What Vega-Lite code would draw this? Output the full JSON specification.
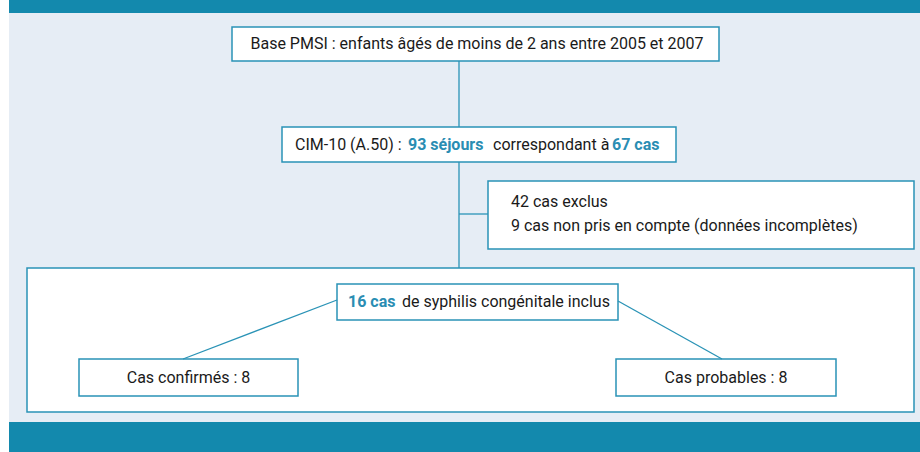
{
  "$schema": "https://vega.github.io/schema/vega-lite/v6.json",
  "autosize": {"type": "fit", "contains": "padding"},
  "width": 920,
  "height": 452,
  "padding": 0,
  "background": "#ffffff",
  "config": {"view": {"stroke": null}},
  "datasets": {
    "bands": [
      {"x": 9, "x2": 920, "y": 0, "y2": 13, "c": "#1389ad"},
      {"x": 9, "x2": 920, "y": 13, "y2": 422, "c": "#e6edf5"},
      {"x": 9, "x2": 920, "y": 422, "y2": 452, "c": "#1389ad"}
    ],
    "boxes": [
      {"x": 232, "x2": 719, "y": 27, "y2": 61},
      {"x": 282, "x2": 676, "y": 127, "y2": 162},
      {"x": 488, "x2": 914, "y": 181, "y2": 249},
      {"x": 27, "x2": 914, "y": 268, "y2": 412},
      {"x": 337, "x2": 618, "y": 284, "y2": 320},
      {"x": 79, "x2": 298, "y": 359, "y2": 396},
      {"x": 616, "x2": 836, "y": 359, "y2": 396}
    ],
    "links": [
      {"x": 459, "x2": 459, "y": 61, "y2": 127},
      {"x": 459, "x2": 459, "y": 162, "y2": 268},
      {"x": 459, "x2": 488, "y": 214, "y2": 214},
      {"x": 337, "x2": 183, "y": 300, "y2": 359},
      {"x": 618, "x2": 722, "y": 301, "y2": 359}
    ],
    "centered": [
      {"x": 477, "y": 44, "t": "Base PMSI : enfants âgés de moins de 2 ans entre 2005 et 2007"},
      {"x": 188.5, "y": 378, "t": "Cas confirmés : 8"},
      {"x": 726, "y": 378, "t": "Cas probables : 8"}
    ],
    "leftplain": [
      {"x": 295, "y": 145, "t": "CIM-10 (A.50) :"},
      {"x": 493, "y": 145, "t": "correspondant à"},
      {"x": 402, "y": 302, "t": "de syphilis congénitale inclus"},
      {"x": 511, "y": 202, "t": "42 cas exclus"},
      {"x": 511, "y": 226, "t": "9 cas non pris en compte (données incomplètes)"}
    ],
    "leftbold": [
      {"x": 408, "y": 145, "t": "93 séjours"},
      {"x": 612, "y": 145, "t": "67 cas"},
      {"x": 348, "y": 302, "t": "16 cas"}
    ]
  },
  "layer": [
    {
      "data": {"name": "bands"},
      "mark": {"type": "rect"},
      "encoding": {
        "x": {"field": "x", "type": "quantitative", "scale": {"domain": [0, 920], "nice": false, "zero": false}, "axis": null},
        "x2": {"field": "x2"},
        "y": {"field": "y", "type": "quantitative", "scale": {"domain": [0, 452], "nice": false, "zero": false, "reverse": true}, "axis": null},
        "y2": {"field": "y2"},
        "color": {"field": "c", "type": "nominal", "scale": null}
      }
    },
    {
      "data": {"name": "boxes"},
      "mark": {"type": "rect", "fill": "#ffffff", "stroke": "#2a93b6", "strokeWidth": 1.5},
      "encoding": {
        "x": {"field": "x", "type": "quantitative", "axis": null},
        "x2": {"field": "x2"},
        "y": {"field": "y", "type": "quantitative", "axis": null},
        "y2": {"field": "y2"}
      }
    },
    {
      "data": {"name": "links"},
      "mark": {"type": "rule", "color": "#2a93b6", "strokeWidth": 1.3},
      "encoding": {
        "x": {"field": "x", "type": "quantitative", "axis": null},
        "x2": {"field": "x2"},
        "y": {"field": "y", "type": "quantitative", "axis": null},
        "y2": {"field": "y2"}
      }
    },
    {
      "data": {"name": "centered"},
      "mark": {"type": "text", "align": "center", "baseline": "middle", "font": "Roboto", "fontSize": 16, "color": "#1a1a1a"},
      "encoding": {
        "x": {"field": "x", "type": "quantitative", "axis": null},
        "y": {"field": "y", "type": "quantitative", "axis": null},
        "text": {"field": "t"}
      }
    },
    {
      "data": {"name": "leftplain"},
      "mark": {"type": "text", "align": "left", "baseline": "middle", "font": "Roboto", "fontSize": 16, "color": "#1a1a1a"},
      "encoding": {
        "x": {"field": "x", "type": "quantitative", "axis": null},
        "y": {"field": "y", "type": "quantitative", "axis": null},
        "text": {"field": "t"}
      }
    },
    {
      "data": {"name": "leftbold"},
      "mark": {"type": "text", "align": "left", "baseline": "middle", "font": "Roboto", "fontSize": 16, "fontWeight": "bold", "color": "#2a8db3"},
      "encoding": {
        "x": {"field": "x", "type": "quantitative", "axis": null},
        "y": {"field": "y", "type": "quantitative", "axis": null},
        "text": {"field": "t"}
      }
    }
  ]
}
